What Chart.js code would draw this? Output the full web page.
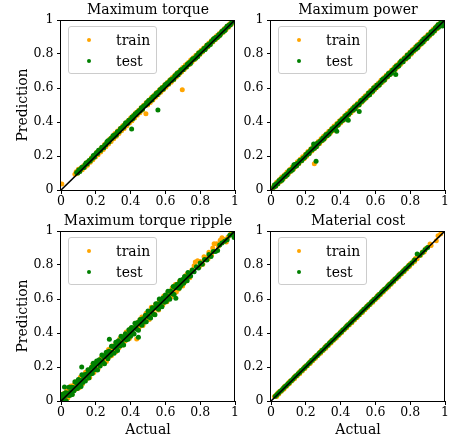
<!DOCTYPE html>
<html><head><meta charset="utf-8">
<script src="https://cdn.jsdelivr.net/npm/chart.js@4.4.1/dist/chart.umd.min.js"></script>
<style>
html,body{margin:0;padding:0;background:#fff;width:449px;height:439px;overflow:hidden;position:relative;}
canvas{position:absolute;}
.leg{position:absolute;box-sizing:border-box;width:89px;height:48px;border:1px solid #cccccc;border-radius:3px;background:rgba(255,255,255,0.8);font-family:'DejaVu Serif';font-size:14px;color:#000;}
.leg .dot{position:absolute;left:17.8px;width:4.6px;height:4.6px;border-radius:50%;}
.leg .lab{position:absolute;left:47px;line-height:16px;white-space:nowrap;}
</style></head>
<body>
<canvas id="c1"></canvas><canvas id="c2"></canvas><canvas id="c3"></canvas><canvas id="c4"></canvas>
<script>
// ---------- data: [actual, prediction] pairs ----------
const panelTitles = ["Maximum torque", "Maximum power", "Maximum torque ripple", "Material cost"];
const seriesNames = ["train", "test"];
const tickValues = [0, 0.2, 0.4, 0.6, 0.8, 1];
const tickLabels = ["0", "0.2", "0.4", "0.6", "0.8", "1"];
const diagX = [0, 1];
const diagY = [0, 1];

const torqueTrain = [[0.005,0.036],[0.08,0.092],[0.087,0.108],[0.095,0.098],[0.10,0.122],[0.108,0.110],[0.115,0.130],[0.122,0.119],[0.13,0.142],[0.138,0.134],[0.145,0.160],[0.152,0.146],[0.16,0.172],[0.168,0.163],[0.175,0.190],[0.183,0.178],[0.19,0.203],[0.198,0.194],[0.205,0.222],[0.213,0.208],[0.22,0.236],[0.228,0.224],[0.235,0.252],[0.243,0.238],[0.25,0.268],[0.258,0.255],[0.265,0.284],[0.273,0.270],[0.28,0.300],[0.288,0.286],[0.295,0.315],[0.303,0.301],[0.31,0.332],[0.318,0.316],[0.325,0.347],[0.333,0.333],[0.34,0.362],[0.348,0.348],[0.355,0.378],[0.363,0.362],[0.37,0.393],[0.378,0.378],[0.385,0.408],[0.393,0.394],[0.40,0.424],[0.408,0.408],[0.415,0.438],[0.423,0.424],[0.43,0.454],[0.438,0.440],[0.445,0.468],[0.453,0.454],[0.46,0.484],[0.468,0.470],[0.475,0.498],[0.488,0.449],[0.49,0.514],[0.498,0.500],[0.505,0.528],[0.513,0.515],[0.52,0.544],[0.528,0.530],[0.535,0.558],[0.543,0.545],[0.55,0.574],[0.558,0.560],[0.565,0.588],[0.573,0.575],[0.58,0.603],[0.588,0.590],[0.595,0.618],[0.603,0.605],[0.61,0.632],[0.618,0.620],[0.625,0.647],[0.633,0.634],[0.64,0.662],[0.648,0.649],[0.655,0.676],[0.663,0.664],[0.67,0.691],[0.678,0.679],[0.685,0.705],[0.693,0.694],[0.697,0.590],[0.70,0.720],[0.708,0.709],[0.715,0.735],[0.723,0.724],[0.73,0.749],[0.738,0.738],[0.745,0.764],[0.753,0.753],[0.76,0.778],[0.768,0.768],[0.775,0.793],[0.783,0.783],[0.79,0.807],[0.798,0.797],[0.805,0.822],[0.813,0.812],[0.82,0.836],[0.828,0.827],[0.835,0.850],[0.843,0.841],[0.85,0.864],[0.858,0.856],[0.865,0.879],[0.873,0.870],[0.88,0.893],[0.888,0.885],[0.895,0.907],[0.903,0.899],[0.91,0.921],[0.918,0.914],[0.925,0.936],[0.933,0.928],[0.94,0.950],[0.948,0.943],[0.955,0.964],[0.963,0.958],[0.97,0.978],[0.978,0.973],[0.985,0.992],[0.993,0.988]];
const torqueTest = [[0.090,0.103],[0.096,0.100],[0.102,0.118],[0.108,0.109],[0.114,0.123],[0.120,0.134],[0.126,0.132],[0.132,0.132],[0.138,0.149],[0.144,0.159],[0.150,0.153],[0.156,0.164],[0.162,0.174],[0.168,0.170],[0.174,0.184],
[0.180,0.187],[0.186,0.203],[0.192,0.194],[0.198,0.210],[0.204,0.219],[0.210,0.214],[0.216,0.234],[0.222,0.231],[0.228,0.234],[0.234,0.250],[0.240,0.251],[0.246,0.249],[0.252,0.265],[0.258,0.266],[0.264,0.282],
[0.270,0.289],[0.276,0.282],[0.282,0.296],[0.288,0.305],[0.294,0.304],[0.300,0.321],[0.306,0.314],[0.312,0.327],[0.318,0.323],[0.324,0.342],[0.330,0.343],[0.336,0.345],[0.342,0.362],[0.348,0.360],[0.354,0.370],
[0.360,0.369],[0.366,0.384],[0.372,0.395],[0.378,0.391],[0.384,0.392],[0.390,0.410],[0.396,0.412],[0.402,0.413],[0.408,0.430],[0.414,0.421],[0.420,0.437],[0.426,0.447],[0.432,0.444],[0.438,0.457],[0.444,0.458],
[0.450,0.467],[0.456,0.466],[0.462,0.484],[0.468,0.475],[0.474,0.493],[0.480,0.496],[0.486,0.498],[0.492,0.513],[0.498,0.507],[0.504,0.527],[0.510,0.524],[0.516,0.534],[0.522,0.530],[0.528,0.548],[0.534,0.549],
[0.540,0.553],[0.546,0.568],[0.552,0.560],[0.558,0.575],[0.564,0.574],[0.570,0.591],[0.576,0.588],[0.582,0.601],[0.588,0.594],[0.594,0.609],[0.600,0.620],[0.606,0.617],[0.612,0.630],[0.618,0.625],[0.624,0.640],
[0.630,0.648],[0.636,0.644],[0.642,0.655],[0.648,0.651],[0.654,0.670],[0.660,0.670],[0.666,0.685],[0.672,0.677],[0.678,0.692],[0.684,0.691],[0.690,0.707],[0.696,0.707],[0.702,0.708],[0.708,0.720],[0.714,0.723],
[0.720,0.723],[0.726,0.739],[0.732,0.738],[0.738,0.750],[0.744,0.744],[0.750,0.760],[0.756,0.771],[0.762,0.767],[0.768,0.776],[0.774,0.775],[0.780,0.791],[0.786,0.785],[0.792,0.806],[0.798,0.802],[0.804,0.813],
[0.810,0.818],[0.816,0.819],[0.822,0.833],[0.828,0.827],[0.834,0.840],[0.840,0.853],[0.846,0.847],[0.852,0.859],[0.858,0.856],[0.864,0.874],[0.870,0.874],[0.876,0.888],[0.882,0.884],[0.888,0.897],[0.894,0.894],
[0.900,0.900],[0.906,0.913],[0.912,0.909],[0.918,0.921],[0.924,0.932],[0.930,0.929],[0.936,0.942],[0.942,0.938],[0.948,0.952],[0.954,0.963],[0.960,0.961],[0.966,0.971],[0.972,0.970],[0.978,0.980],[0.984,0.991],[0.990,0.995],
[0.406,0.359],[0.557,0.470]];

const powerTrain = [[0.01,0.012],[0.018,0.028],[0.025,0.020],[0.032,0.045],[0.04,0.036],[0.048,0.060],[0.055,0.050],[0.062,0.076],[0.07,0.064],[0.078,0.090],[0.085,0.080],[0.092,0.106],[0.10,0.095],[0.108,0.120],[0.115,0.110],[0.122,0.136],[0.13,0.124],[0.138,0.150],[0.145,0.140],[0.152,0.166],[0.16,0.154],[0.168,0.181],[0.175,0.170],[0.182,0.196],[0.19,0.184],[0.198,0.211],[0.205,0.199],[0.212,0.226],[0.22,0.214],[0.228,0.241],[0.235,0.229],[0.242,0.256],[0.249,0.155],[0.25,0.244],[0.258,0.271],[0.265,0.259],[0.272,0.286],[0.28,0.274],[0.288,0.301],[0.295,0.289],[0.302,0.316],[0.31,0.304],[0.318,0.331],[0.325,0.319],[0.332,0.346],[0.34,0.334],[0.348,0.361],[0.355,0.349],[0.362,0.376],[0.37,0.364],[0.378,0.391],[0.385,0.379],[0.392,0.406],[0.40,0.394],[0.408,0.421],[0.415,0.409],[0.422,0.436],[0.43,0.424],[0.438,0.451],[0.445,0.439],[0.452,0.466],[0.46,0.454],[0.468,0.481],[0.475,0.469],[0.482,0.496],[0.49,0.484],[0.498,0.511],[0.505,0.499],[0.512,0.525],[0.52,0.514],[0.528,0.540],[0.535,0.529],[0.542,0.555],[0.55,0.544],[0.558,0.570],[0.565,0.559],[0.572,0.585],[0.58,0.574],[0.588,0.600],[0.595,0.589],[0.602,0.615],[0.61,0.604],[0.618,0.630],[0.625,0.619],[0.632,0.645],[0.64,0.634],[0.648,0.660],[0.655,0.649],[0.662,0.675],[0.67,0.664],[0.678,0.690],[0.685,0.679],[0.692,0.705],[0.70,0.694],[0.708,0.720],[0.715,0.709],[0.722,0.735],[0.73,0.724],[0.738,0.750],[0.745,0.739],[0.752,0.765],[0.76,0.754],[0.768,0.780],[0.775,0.769],[0.782,0.795],[0.79,0.784],[0.798,0.810],[0.805,0.799],[0.812,0.825],[0.82,0.814],[0.828,0.840],[0.835,0.829],[0.842,0.855],[0.85,0.844],[0.858,0.870],[0.865,0.859],[0.872,0.885],[0.88,0.874],[0.888,0.900],[0.895,0.889],[0.902,0.915],[0.91,0.904],[0.918,0.930],[0.925,0.919],[0.932,0.945],[0.94,0.934],[0.948,0.960],[0.955,0.949],[0.962,0.975],[0.97,0.964],[0.978,0.990],[0.985,0.979],[0.992,0.998]];
const powerTest = [[0.015,0.016],[0.021,0.031],[0.027,0.023],[0.033,0.038],[0.039,0.037],[0.045,0.054],[0.051,0.051],[0.057,0.064],[0.063,0.057],[0.069,0.072],[0.075,0.083],[0.081,0.080],[0.087,0.093],[0.093,0.088],[0.099,0.103],
[0.105,0.114],[0.111,0.110],[0.117,0.121],[0.123,0.117],[0.129,0.136],[0.135,0.136],[0.141,0.151],[0.147,0.143],[0.153,0.158],[0.159,0.157],[0.165,0.173],[0.171,0.173],[0.177,0.174],[0.183,0.186],[0.189,0.189],
[0.195,0.193],[0.201,0.209],[0.207,0.208],[0.213,0.220],[0.219,0.214],[0.225,0.230],[0.231,0.241],[0.237,0.237],[0.243,0.246],[0.249,0.245],[0.255,0.261],[0.261,0.255],[0.267,0.276],[0.273,0.272],[0.279,0.283],
[0.285,0.290],[0.291,0.291],[0.297,0.305],[0.303,0.299],[0.309,0.312],[0.315,0.325],[0.321,0.319],[0.327,0.331],[0.333,0.328],[0.339,0.346],[0.345,0.346],[0.351,0.360],[0.357,0.356],[0.363,0.369],[0.369,0.366],
[0.375,0.375],[0.381,0.388],[0.387,0.384],[0.393,0.396],[0.399,0.407],[0.405,0.404],[0.411,0.417],[0.417,0.413],[0.423,0.427],[0.429,0.438],[0.435,0.436],[0.441,0.446],[0.447,0.445],[0.453,0.455],[0.459,0.466],
[0.465,0.472],[0.471,0.469],[0.477,0.487],[0.483,0.478],[0.489,0.492],[0.495,0.503],[0.501,0.501],[0.507,0.501],[0.513,0.518],[0.519,0.528],[0.525,0.522],[0.531,0.533],[0.537,0.543],[0.543,0.539],[0.549,0.553],
[0.555,0.554],[0.561,0.570],[0.567,0.561],[0.573,0.577],[0.579,0.586],[0.585,0.581],[0.591,0.601],[0.597,0.598],[0.603,0.601],[0.609,0.617],[0.615,0.618],[0.621,0.616],[0.627,0.632],[0.633,0.633],[0.639,0.649],
[0.645,0.653],[0.651,0.646],[0.657,0.660],[0.663,0.669],[0.669,0.668],[0.675,0.685],[0.681,0.678],[0.687,0.691],[0.693,0.687],[0.699,0.706],[0.705,0.707],[0.711,0.709],[0.717,0.726],[0.723,0.724],[0.729,0.734],
[0.735,0.731],[0.741,0.746],[0.747,0.757],[0.753,0.753],[0.759,0.754],[0.765,0.772],[0.771,0.774],[0.777,0.775],[0.783,0.792],[0.789,0.783],[0.795,0.799],[0.801,0.809],[0.807,0.806],[0.813,0.819],[0.819,0.820],
[0.825,0.829],[0.831,0.828],[0.837,0.846],[0.843,0.837],[0.849,0.855],[0.855,0.858],[0.861,0.860],[0.867,0.875],[0.873,0.869],[0.879,0.889],[0.885,0.886],[0.891,0.896],[0.897,0.892],[0.903,0.910],[0.909,0.911],
[0.915,0.916],[0.921,0.931],[0.927,0.923],[0.933,0.938],[0.939,0.937],[0.945,0.954],[0.951,0.951],[0.957,0.964],[0.963,0.957],[0.969,0.972],[0.975,0.983],[0.981,0.980],[0.987,0.993],[0.993,0.988],
[0.132,0.148],[0.245,0.270],[0.259,0.169],[0.378,0.345],[0.444,0.410],[0.507,0.462],[0.717,0.680],[0.960,0.972],[0.985,0.965],[0.990,0.972]];

const rippleTrain = [[0.003,0.025],[0.009,0.005],[0.015,0.044],[0.021,0.003],[0.027,0.038],[0.033,0.060],[0.039,0.017],[0.045,0.062],[0.051,0.041],[0.057,0.088],[0.063,0.038],[0.069,0.075],[0.075,0.095],[0.081,0.067],[0.087,0.112],[0.093,0.073],[0.099,0.112],[0.105,0.078],[0.111,0.140],[0.117,0.109],
[0.123,0.100],[0.129,0.148],[0.135,0.123],[0.141,0.169],[0.147,0.129],[0.153,0.161],[0.159,0.183],[0.165,0.138],[0.171,0.186],[0.177,0.171],[0.183,0.215],[0.189,0.168],[0.195,0.206],[0.201,0.186],[0.207,0.234],[0.213,0.188],[0.219,0.237],[0.225,0.217],[0.231,0.253],[0.237,0.218],
[0.243,0.268],[0.249,0.236],[0.255,0.262],[0.261,0.232],[0.267,0.287],[0.273,0.303],[0.279,0.262],[0.285,0.298],[0.291,0.267],[0.297,0.324],[0.303,0.297],[0.309,0.327],[0.315,0.289],[0.321,0.331],[0.327,0.350],[0.333,0.313],[0.339,0.368],[0.345,0.334],[0.351,0.366],[0.357,0.329],
[0.363,0.384],[0.369,0.353],[0.375,0.406],[0.381,0.372],[0.387,0.400],[0.393,0.368],[0.399,0.425],[0.405,0.401],[0.411,0.430],[0.417,0.395],[0.423,0.431],[0.429,0.457],[0.435,0.365],[0.441,0.458],[0.447,0.428],[0.453,0.478],[0.459,0.446],[0.465,0.494],[0.471,0.444],[0.477,0.488],
[0.483,0.465],[0.489,0.516],[0.495,0.487],[0.501,0.521],[0.507,0.479],[0.513,0.528],[0.519,0.551],[0.525,0.511],[0.531,0.540],[0.537,0.513],[0.543,0.567],[0.549,0.545],[0.555,0.573],[0.561,0.535],[0.567,0.596],[0.573,0.562],[0.579,0.592],[0.585,0.565],[0.591,0.618],[0.597,0.582],
[0.603,0.622],[0.609,0.584],[0.615,0.643],[0.621,0.613],[0.627,0.642],[0.633,0.613],[0.639,0.664],[0.645,0.632],[0.651,0.658],[0.657,0.686],[0.663,0.641],[0.669,0.681],[0.675,0.658],[0.681,0.704],[0.687,0.681],[0.693,0.711],[0.699,0.676],[0.705,0.719],[0.711,0.700],[0.717,0.738],
[0.728,0.752],[0.740,0.725],[0.752,0.770],[0.765,0.795],[0.772,0.817],[0.785,0.825],[0.795,0.790],[0.800,0.820],[0.815,0.805],[0.822,0.848],[0.830,0.842],[0.845,0.835],[0.850,0.875],[0.865,0.857],[0.872,0.900],[0.880,0.925],[0.895,0.925],[0.905,0.910],[0.915,0.945],[0.925,0.960],[0.940,0.950],[0.950,0.935],[0.960,0.965],[0.975,0.983],[0.990,0.992],[0.997,0.999]];
const rippleTest = [[0.000,0.018],[0.005,0.001],[0.010,0.040],[0.015,0.002],[0.020,0.026],[0.025,0.049],[0.030,0.002],[0.035,0.047],[0.040,0.034],[0.045,0.081],[0.050,0.032],[0.055,0.055],[0.060,0.081],[0.065,0.038],[0.070,0.079],[0.075,0.060],[0.080,0.113],[0.085,0.076],[0.090,0.105],[0.095,0.074],
[0.100,0.126],[0.105,0.097],[0.110,0.121],[0.115,0.086],[0.120,0.154],[0.125,0.109],[0.130,0.134],[0.135,0.154],[0.140,0.118],[0.145,0.158],[0.150,0.147],[0.155,0.184],[0.160,0.135],[0.165,0.173],[0.170,0.159],[0.175,0.198],[0.180,0.162],[0.185,0.222],[0.190,0.184],[0.195,0.210],
[0.200,0.186],[0.205,0.236],[0.210,0.183],[0.215,0.222],[0.220,0.242],[0.225,0.206],[0.230,0.232],[0.235,0.270],[0.240,0.230],[0.245,0.261],[0.250,0.219],[0.255,0.265],[0.260,0.287],[0.265,0.260],[0.270,0.249],[0.275,0.293],[0.280,0.285],[0.285,0.269],[0.290,0.322],[0.295,0.287],
[0.300,0.320],[0.305,0.281],[0.310,0.323],[0.315,0.345],[0.320,0.308],[0.325,0.297],[0.330,0.354],[0.335,0.336],[0.340,0.323],[0.345,0.381],[0.350,0.343],[0.355,0.372],[0.360,0.330],[0.365,0.374],[0.370,0.396],[0.375,0.361],[0.380,0.384],[0.385,0.363],[0.390,0.419],[0.395,0.407],
[0.400,0.381],[0.405,0.433],[0.410,0.406],[0.415,0.430],[0.420,0.394],[0.425,0.458],[0.430,0.436],[0.435,0.422],[0.440,0.462],[0.445,0.416],[0.450,0.461],[0.455,0.480],[0.460,0.451],[0.465,0.445],[0.470,0.484],[0.475,0.478],[0.480,0.464],[0.485,0.504],[0.490,0.466],[0.495,0.503],
[0.500,0.530],[0.505,0.494],[0.510,0.528],[0.515,0.488],[0.520,0.525],[0.525,0.549],[0.530,0.512],[0.535,0.547],[0.540,0.508],[0.545,0.572],[0.550,0.548],[0.555,0.571],[0.560,0.539],[0.565,0.600],[0.570,0.562],[0.575,0.585],[0.580,0.555],[0.585,0.606],[0.590,0.592],[0.595,0.581],
[0.600,0.623],[0.605,0.585],[0.610,0.618],[0.615,0.646],[0.620,0.607],[0.625,0.599],[0.630,0.647],[0.635,0.639],[0.640,0.631],[0.645,0.673],[0.650,0.627],[0.655,0.667],[0.660,0.604],[0.665,0.685],[0.670,0.666],[0.675,0.689],[0.680,0.663],[0.685,0.710],[0.690,0.679],[0.695,0.701],
[0.700,0.715],[0.705,0.693],[0.710,0.732],[0.715,0.709],[0.720,0.729],[0.725,0.707],[0.730,0.756],[0.735,0.732],[0.740,0.752],[0.745,0.735],
[0.755,0.770],[0.765,0.760],[0.778,0.790],[0.790,0.782],[0.800,0.812],[0.812,0.805],[0.825,0.833],[0.838,0.830],[0.850,0.862],[0.862,0.850],[0.875,0.879],[0.888,0.880],[0.900,0.885],[0.912,0.918],[0.925,0.929],[0.940,0.940],[0.955,0.948],[0.970,0.975],[0.985,0.980],[0.995,0.962],
[0.020,0.082],[0.119,0.200],[0.278,0.363],[0.445,0.375]];

const costTrain = [[0.02,0.027],[0.03,0.037],[0.032,0.026],[0.04,0.048],[0.045,0.041],[0.05,0.058],[0.06,0.057],[0.07,0.077],[0.075,0.071],[0.08,0.088],[0.09,0.087],[0.10,0.107],[0.105,0.101],[0.11,0.118],[0.12,0.117],[0.13,0.137],[0.135,0.131],[0.14,0.148],[0.15,0.147],[0.16,0.167],[0.165,0.161],[0.17,0.178],[0.18,0.177],[0.19,0.197],[0.195,0.191],[0.20,0.208],[0.21,0.207],[0.22,0.227],[0.225,0.221],[0.23,0.238],[0.24,0.237],[0.25,0.257],[0.255,0.251],[0.26,0.268],[0.27,0.267],[0.28,0.287],[0.285,0.281],[0.29,0.298],[0.30,0.297],[0.31,0.317],[0.315,0.311],[0.32,0.328],[0.33,0.327],[0.34,0.347],[0.345,0.341],[0.35,0.358],[0.36,0.357],[0.37,0.377],[0.375,0.371],[0.38,0.388],[0.39,0.387],[0.40,0.407],[0.405,0.401],[0.41,0.418],[0.42,0.417],[0.43,0.437],[0.435,0.431],[0.44,0.448],[0.45,0.447],[0.46,0.467],[0.465,0.461],[0.47,0.478],[0.48,0.477],[0.49,0.497],[0.495,0.491],[0.50,0.508],[0.51,0.507],[0.52,0.527],[0.525,0.521],[0.53,0.538],[0.54,0.537],[0.55,0.557],[0.555,0.551],[0.56,0.568],[0.57,0.567],[0.58,0.587],[0.585,0.581],[0.59,0.598],[0.60,0.597],[0.61,0.617],[0.615,0.611],[0.62,0.628],[0.63,0.627],[0.64,0.647],[0.645,0.641],[0.65,0.658],[0.66,0.657],[0.67,0.677],[0.675,0.671],[0.68,0.688],[0.69,0.687],[0.70,0.707],[0.705,0.701],[0.71,0.718],[0.72,0.717],[0.73,0.737],[0.735,0.731],[0.74,0.748],[0.75,0.747],[0.76,0.767],[0.765,0.761],[0.77,0.778],[0.78,0.777],[0.79,0.797],[0.795,0.791],[0.80,0.808],[0.81,0.807],[0.82,0.827],[0.825,0.821],[0.83,0.838],[0.84,0.837],[0.85,0.857],[0.86,0.858],[0.87,0.877],[0.88,0.876],[0.89,0.897],[0.914,0.924],[0.92,0.915],[0.95,0.943],[0.96,0.972],[0.975,0.982]];
const costTest = [[0.025,0.028],[0.035,0.038],[0.045,0.048],[0.055,0.059],[0.065,0.068],[0.075,0.079],[0.085,0.088],[0.095,0.099],[0.105,0.108],[0.115,0.119],[0.125,0.128],[0.135,0.139],[0.145,0.148],[0.155,0.159],[0.165,0.168],[0.175,0.179],[0.185,0.188],[0.195,0.199],[0.205,0.208],[0.215,0.219],[0.225,0.228],[0.235,0.239],[0.245,0.248],[0.255,0.259],[0.265,0.268],[0.275,0.279],[0.285,0.288],[0.295,0.299],[0.305,0.308],[0.315,0.319],[0.325,0.328],[0.335,0.339],[0.345,0.348],[0.355,0.359],[0.365,0.368],[0.375,0.379],[0.385,0.388],[0.395,0.399],[0.405,0.408],[0.415,0.419],[0.425,0.428],[0.435,0.439],[0.445,0.448],[0.455,0.459],[0.465,0.468],[0.475,0.479],[0.485,0.488],[0.495,0.499],[0.505,0.508],[0.515,0.519],[0.525,0.528],[0.535,0.539],[0.545,0.548],[0.555,0.559],[0.565,0.568],[0.575,0.579],[0.585,0.588],[0.595,0.599],[0.605,0.608],[0.615,0.619],[0.625,0.628],[0.635,0.639],[0.645,0.648],[0.655,0.659],[0.665,0.668],[0.675,0.679],[0.685,0.688],[0.695,0.699],[0.705,0.708],[0.715,0.719],[0.725,0.728],[0.735,0.739],[0.745,0.748],[0.755,0.759],[0.765,0.768],[0.775,0.779],[0.785,0.788],[0.795,0.799],[0.81,0.813],[0.825,0.829],[0.84,0.865],[0.855,0.858],[0.87,0.873],[0.885,0.889],[0.90,0.903]];

// ---------- layout ----------
const FONT = "'DejaVu Serif'";
const ORANGE = '#FFA500', GREEN = '#008000';
const panels = [
  {id:'c1', left:0,   top:0,   w:240, h:211, yW:61, xH:21, padR:5,  yT:true,  xT:false, train:torqueTrain, test:torqueTest},
  {id:'c2', left:240, top:0,   w:215, h:211, yW:31, xH:21, padR:10, yT:false, xT:false, train:powerTrain,  test:powerTest},
  {id:'c3', left:0,   top:211, w:240, h:228, yW:61, xH:38, padR:5,  yT:true,  xT:true,  train:rippleTrain, test:rippleTest},
  {id:'c4', left:240, top:211, w:215, h:228, yW:31, xH:38, padR:10, yT:false, xT:true,  train:costTrain,   test:costTest}
];

const framePlugin = {
  id: 'frame',
  afterDraw(chart) {
    const a = chart.chartArea, ctx = chart.ctx;
    ctx.save();
    ctx.strokeStyle = '#000'; ctx.lineWidth = 1;
    ctx.strokeRect(Math.round(a.left) - 0.5, Math.round(a.top) + 0.5, Math.round(a.right - a.left), Math.round(a.bottom - a.top));
    ctx.restore();
  }
};

const toPts = arr => arr.map(p => ({x: p[0], y: p[1]}));

function axis(isX, p) {
  return {
    type: 'linear', min: 0, max: 1,
    afterFit: s => { if (isX) s.height = p.xH; else s.width = p.yW; },
    afterBuildTicks: s => { s.ticks = tickValues.map(v => ({value: v})); },
    ticks: {
      color: '#000', padding: isX ? 0.5 : 3.5, maxRotation: 0, autoSkip: false,
      font: {family: FONT, size: 12.5},
      callback: (v) => tickLabels[tickValues.indexOf(v)] ?? ''
    },
    grid: {display: true, drawOnChartArea: false, drawTicks: true, tickLength: 4, color: '#000', lineWidth: 1},
    border: {display: false},
    title: isX
      ? {display: p.xT, text: 'Actual', color: '#000', font: {family: FONT, size: 14}, padding: {top: 0, bottom: 0.6}}
      : {display: p.yT, text: 'Prediction', color: '#000', font: {family: FONT, size: 14}, padding: {top: 14.6, bottom: 0}}
  };
}

panels.forEach((p, i) => {
  const cv = document.getElementById(p.id);
  cv.width = p.w; cv.height = p.h;
  cv.style.left = p.left + 'px'; cv.style.top = p.top + 'px';
  cv.style.width = p.w + 'px'; cv.style.height = p.h + 'px';
  new Chart(cv.getContext('2d'), {
    type: 'scatter',
    data: {
      datasets: [
        {type: 'line', label: 'diag', data: diagX.map((x, k) => ({x, y: diagY[k]})), borderColor: '#000', borderWidth: 1.6, pointRadius: 0, fill: false, order: 0},
        {label: seriesNames[1], data: toPts(p.test), backgroundColor: GREEN, borderWidth: 0, pointRadius: 2.5, order: 1},
        {label: seriesNames[0], data: toPts(p.train), backgroundColor: ORANGE, borderWidth: 0, pointRadius: 2.5, order: 2}
      ]
    },
    options: {
      responsive: false, animation: false, devicePixelRatio: 1,
      layout: {padding: {left: 0, top: 0, right: p.padR, bottom: 0}},
      plugins: {
        legend: {display: false}, tooltip: {enabled: false},
        title: {display: true, fullSize: false, text: panelTitles[i], color: '#000', font: {family: FONT, size: 14, weight: 'normal'}, padding: {top: 1.6, bottom: 1.6}}
      },
      scales: {x: axis(true, p), y: axis(false, p)}
    },
    plugins: [framePlugin]
  });
  // legend box (matplotlib style, upper left inside axes)
  const chartLeft = p.left + p.yW, chartTop = p.top + 20;
  const lg = document.createElement('div');
  lg.className = 'leg';
  lg.style.left = (chartLeft + 7) + 'px'; lg.style.top = (chartTop + 6) + 'px';
  [[ORANGE, seriesNames[0], 0], [GREEN, seriesNames[1], 21]].forEach(([c, t, dy]) => {
    const d = document.createElement('div'); d.className = 'dot'; d.style.background = c; d.style.top = (10.7 + dy) + 'px'; lg.appendChild(d);
    const s = document.createElement('div'); s.className = 'lab'; s.textContent = t; s.style.top = (4.5 + dy) + 'px'; lg.appendChild(s);
  });
  document.body.appendChild(lg);
});
</script>
</body></html>
